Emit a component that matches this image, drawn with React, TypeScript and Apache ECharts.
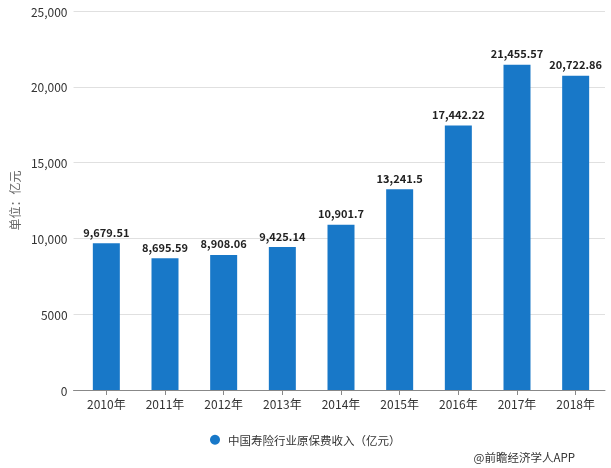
import React, { useEffect, useRef } from "react";
import * as echarts from "echarts";

const categories = ["2010年", "2011年", "2012年", "2013年", "2014年", "2015年", "2016年", "2017年", "2018年"];
const values = [9679.51, 8695.59, 8908.06, 9425.14, 10901.7, 13241.5, 17442.22, 21455.57, 20722.86];
const seriesName = "中国寿险行业原保费收入（亿元）";
const yAxisName = "单位：亿元";

const FONT = "'Noto Sans CJK SC', 'Noto Sans', sans-serif";

export default function App() {
  const ref = useRef<HTMLDivElement>(null);
  useEffect(() => {
    const chart = echarts.init(ref.current!, null, { renderer: "svg" });
    chart.setOption({
      animation: false,
      textStyle: { fontFamily: FONT },
      grid: [
        { left: 68, right: 6, top: 11, bottom: 78 },
        { left: 77, right: 6, top: 11, bottom: 78 },
      ],
      legend: {
        data: [seriesName],
        top: 429,
        left: 205,
        icon: "circle",
        itemWidth: 16,
        itemHeight: 10,
        textStyle: { fontSize: 11.5, color: "#333", fontFamily: FONT },
      },
      graphic: [
        {
          type: "text",
          right: 36,
          top: 451,
          style: { text: "@前瞻经济学人APP", fontSize: 11.5, fill: "#333", fontFamily: FONT },
        },
      ],
      xAxis: [
        {
          type: "category",
          gridIndex: 0,
          data: categories,
          axisLine: { lineStyle: { color: "#888" } },
          axisTick: { show: false },
          axisLabel: { show: false },
        },
        {
          type: "category",
          gridIndex: 1,
          data: categories,
          axisLine: { show: false },
          axisTick: { show: true, alignWithLabel: true, length: 5, lineStyle: { color: "#888" } },
          axisLabel: { color: "#333", fontSize: 12, margin: 7 },
        },
      ],
      yAxis: [
        {
          type: "value",
          gridIndex: 0,
          min: 0,
          max: 25000,
          interval: 5000,
          name: yAxisName,
          nameLocation: "middle",
          nameGap: 49,
          nameRotate: 90,
          nameTextStyle: { color: "#666", fontSize: 12 },
          axisLine: { show: false },
          axisTick: { show: false },
          axisLabel: {
            color: "#333",
            fontSize: 12,
            margin: 6,
            formatter: (v: number) => (v >= 10000 ? v.toLocaleString("en-US") : String(v)),
          },
          splitLine: { lineStyle: { color: "#e0e0e0" } },
        },
        {
          type: "value",
          gridIndex: 1,
          min: 0,
          max: 25000,
          interval: 5000,
          show: false,
        },
      ],
      series: [
        {
          name: seriesName,
          type: "bar",
          xAxisIndex: 1,
          yAxisIndex: 1,
          data: values,
          barWidth: 27,
          itemStyle: { color: "#1878c8" },
          label: {
            show: true,
            position: "top",
            distance: 6,
            color: "#222",
            fontSize: 11,
            fontWeight: "bold",
            formatter: (p: any) => p.value.toLocaleString("en-US", { maximumFractionDigits: 2 }),
          },
        },
      ],
    });
    return () => chart.dispose();
  }, []);
  return <div ref={ref} style={{ position: "fixed", left: 0, top: 0, width: 611, height: 468 }} />;
}
